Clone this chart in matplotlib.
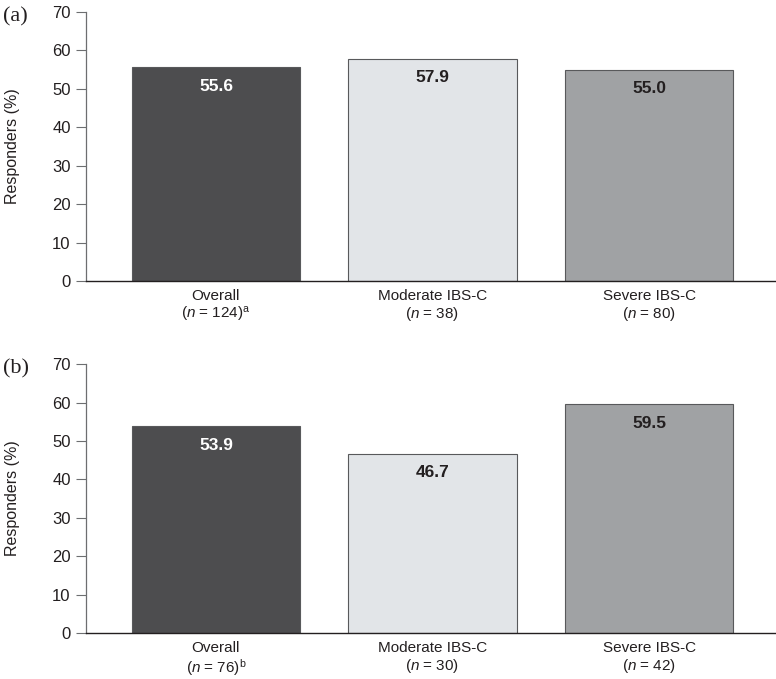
import matplotlib
matplotlib.use("Agg")
import matplotlib.pyplot as plt

plt.rcParams['font.family'] = ['Liberation Sans', 'DejaVu Sans']
plt.rcParams['mathtext.fontset'] = 'custom'
plt.rcParams['mathtext.rm'] = 'Liberation Sans'
plt.rcParams['mathtext.it'] = 'Liberation Sans:italic'
plt.rcParams['mathtext.bf'] = 'Liberation Sans:bold'

categories = ["Overall", "Moderate IBS-C", "Severe IBS-C"]
n_a = ["124", "38", "80"]
n_b = ["76", "30", "42"]
sup_a = ["a", "", ""]
sup_b = ["b", "", ""]
values_a = [55.6, 57.9, 55.0]
values_b = [53.9, 46.7, 59.5]
panel_labels = ["(a)", "(b)"]

colors = ["#4d4d4f", "#e2e5e8", "#a0a2a4"]
text_colors = ["white", "#231f20", "#231f20"]

W, H = 776, 679
fig = plt.figure(figsize=(W / 100, H / 100), dpi=100)
ax_a = fig.add_axes([0.1108, 0.5862, 0.8875, 0.396])
ax_b = fig.add_axes([0.1108, 0.0677, 0.8875, 0.396])

def make_label(cat, n, sup):
    s = cat + "\n" + r"($\mathit{n}$ = " + n + ")"
    if sup:
        s += r"$^{\mathrm{" + sup + "}}$"
    return s

for ax, vals, ns, sups, pl, ytop in [(ax_a, values_a, n_a, sup_a, panel_labels[0], 12),
                                     (ax_b, values_b, n_b, sup_b, panel_labels[1], 364)]:
    x = list(range(len(categories)))
    ax.bar(x, vals, width=0.776, color=colors, edgecolor="#58595b", linewidth=0.8, zorder=2)
    for xi, v, tc in zip(x, vals, text_colors):
        ax.text(xi, v - 5, f"{v:.1f}", ha="center", va="center", fontsize=12.5,
                fontweight="bold", color=tc, zorder=3)
    ax.set_xlim(-0.6, 2.58)
    ax.set_ylim(0, 70)
    ax.set_yticks(range(0, 71, 10))
    ax.set_xticks(x)
    ax.set_xticklabels([make_label(c, n, s) for c, n, s in zip(categories, ns, sups)],
                       fontsize=11, color="#231f20", linespacing=1.1)
    ax.tick_params(axis="x", length=0, pad=6)
    ax.tick_params(axis="y", length=7, width=0.8, color="#6d6e70", labelsize=12,
                   labelcolor="#231f20", pad=4)
    for sp in ["top", "right"]:
        ax.spines[sp].set_visible(False)
    ax.spines["left"].set_linewidth(0.9)
    ax.spines["left"].set_color("#6d6e70")
    ax.spines["bottom"].set_linewidth(1.0)
    ax.spines["bottom"].set_color("#231f20")
    yc = (ytop + ytop + 269) / 2
    fig.text(13 / W, 1 - yc / H, "Responders (%)", rotation=90, ha="center", va="center",
             fontsize=11.5, color="#231f20")
    fig.text(3 / W, 1 - (ytop + 5) / H, pl, fontsize=16,
             family=["Liberation Serif", "DejaVu Serif"], ha="left", va="center", color="#231f20")

fig.savefig("out.png", dpi=100)
